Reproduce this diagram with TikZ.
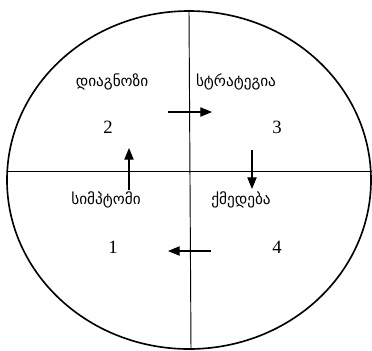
\documentclass[tikz,border=0pt]{standalone}
\usepackage{fontspec}
\setmainfont{Liberation Serif}
\newfontfamily\geofont[Script=Georgian]{DejaVu Sans}
\usetikzlibrary{arrows.meta}

\begin{document}
\begin{tikzpicture}[
    x=0.03cm, y=-0.03cm,
    word/.style={font=\geofont\fontsize{13}{15}\selectfont, inner sep=1pt},
    num/.style={font=\fontsize{16}{18}\selectfont, inner sep=1pt},
    flow/.style={-{Triangle[length=10pt, width=8pt]}, line width=0.9pt}
]
    \useasboundingbox (0,0) rectangle (372,350);

    % Circle and axes
    \draw[line width=1.4pt] (189,180) ellipse [x radius=182, y radius=169];
    \draw[line width=0.7pt] (7,171) -- (372,171);
    \draw[line width=0.8pt] (189,11) -- (191,350);

    % Labels
    \node[word] (diag) at (112,82) {დიაგნოზი};
    \node[word] (strat) at (236,82) {სტრატეგია};
    \node[word] (simpt) at (106,200) {სიმპტომი};
    \node[word] (qmed) at (241,200) {ქმედება};

    % Numbers
    \node[num] (n2) at (108,127) {2};
    \node[num] (n3) at (277,127) {3};
    \node[num] (n1) at (113,247) {1};
    \node[num] (n4) at (277,247) {4};

    % Arrow ends
    \coordinate (rA) at (168,112);
    \coordinate (rB) at (212,112);
    \coordinate (dA) at (252,150);
    \coordinate (dB) at (252,189);
    \coordinate (lA) at (211,251);
    \coordinate (lB) at (168,251);
    \coordinate (uA) at (129,190);
    \coordinate (uB) at (129,148);

    % Cycle arrows
    \draw[flow] (rA) -- (rB);
    \draw[flow] (dA) -- (dB);
    \draw[flow] (lA) -- (lB);
    \draw[flow] (uA) -- (uB);
\end{tikzpicture}
\end{document}
